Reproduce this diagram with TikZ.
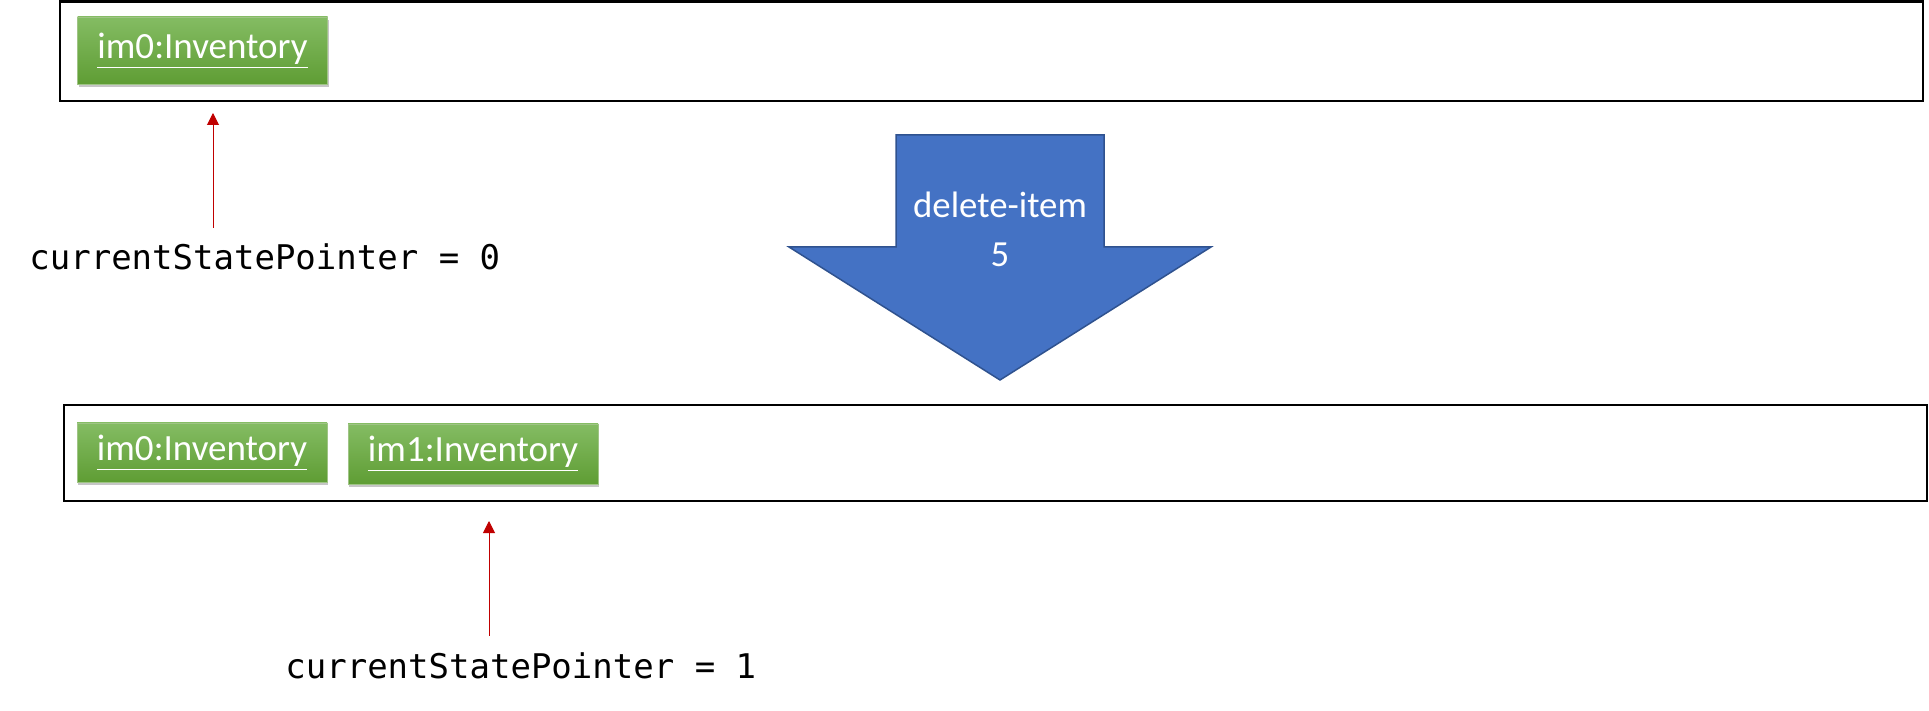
\documentclass[tikz,border=0pt]{standalone}
\usepackage{fontspec}
\setmainfont{Carlito}
\setmonofont{DejaVu Sans Mono}
\usepackage{tikz}
\usetikzlibrary{arrows.meta,positioning,shadows}
\usepackage{xcolor}

\definecolor{stategreentop}{RGB}{132,188,99}
\definecolor{stategreenbot}{RGB}{95,157,52}
\definecolor{cmdblue}{RGB}{68,114,196}
\definecolor{cmdborder}{RGB}{47,82,143}
\definecolor{ptrred}{RGB}{192,0,0}

\tikzset{
  historybox/.style={draw=black, line width=1.3pt, inner sep=0pt},
  statenode/.style={top color=stategreentop, bottom color=stategreenbot,
    draw=stategreenbot!60!white, line width=0.3pt, text=white, inner sep=0pt,
    minimum width=125pt, font=\fontsize{18.5}{22}\selectfont,
    drop shadow={opacity=0.45, shadow xshift=0.6pt, shadow yshift=-1.6pt}},
  ptrlabel/.style={font=\ttfamily\fontsize{17}{20}\selectfont,
    inner xsep=0pt, inner ysep=8pt, anchor=base west},
  pointer/.style={-{Triangle[width=6pt,length=6pt]}, ptrred, line width=0.5pt},
}

\begin{document}
\begin{tikzpicture}[x=0.5pt,y=-0.5pt]
            \useasboundingbox (0,0) rectangle (1929,711);

            % State list before the command
            \node[historybox, minimum width=931.5pt, minimum height=49.75pt] (list0) at (991.5,51.25) {};
            \node[statenode, minimum height=33.5pt] (im0a) at (202.5,50.5) {\underline{im0:Inventory}};

            % Pointer into the first list
            \coordinate (tip0) at (213,113);
            \node[ptrlabel] (ptr0) at (29,270) {currentStatePointer = 0};
            \draw[pointer] (ptr0.north -| tip0) -- (tip0);

            % Big command arrow between the lists
            \filldraw[fill=cmdblue, draw=cmdborder, line width=0.75pt]
                (896,135) -- (1104,135) -- (1104,247) -- (1211,247) -- (1000,380)
                -- (789,247) -- (896,247) -- cycle;
            \node[text=white, align=center, inner sep=0pt,
                  font=\fontsize{18.4}{24.5}\selectfont] (cmd) at (1000,229) {delete-item\\5};

            % State list after the command
            \node[historybox, minimum width=931.5pt, minimum height=48pt] (list1) at (995.5,453) {};
            \node[statenode, minimum height=29.5pt] (im0b) at (202,452.5) {\underline{im0:Inventory}};
            \node[statenode, minimum height=30pt] (im1b) at (473,454) {\underline{im1:Inventory}};

            % Pointer into the second list
            \coordinate (tip1) at (489,521);
            \node[ptrlabel] (ptr1) at (285,678) {currentStatePointer = 1};
            \draw[pointer] (ptr1.north -| tip1) -- (tip1);
        \end{tikzpicture}
\end{document}
